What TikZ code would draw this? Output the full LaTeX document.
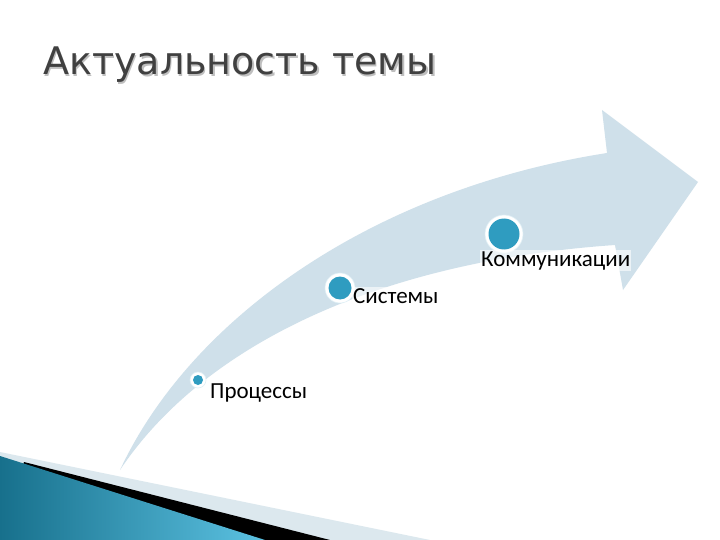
\documentclass[tikz,border=0pt]{standalone}
\usepackage{fontspec}
\setmainfont{Carlito}
\newfontfamily\titlefont{DejaVu Sans}
\definecolor{bandc}{HTML}{CFE0EA}
\definecolor{dotc}{HTML}{2F9CC0}
\definecolor{titlec}{HTML}{404040}
\definecolor{tealdark}{HTML}{17708C}
\definecolor{teallight}{HTML}{5CC2E2}
\definecolor{stripc}{HTML}{DCE8EE}
\tikzset{
  halo/.style={circle, fill=white, draw=white!85!dotc, line width=0.6pt, inner sep=0pt},
  dot/.style={circle, fill=dotc, inner sep=0pt},
  lbl/.style={anchor=base west, inner xsep=1pt, inner ysep=1pt, fill=white, fill opacity=0.6, text opacity=1, font=\fontsize{23}{26}\selectfont, text=black},
}
\begin{document}
\begin{tikzpicture}[x=1pt,y=-1pt]
\useasboundingbox (0,0) rectangle (720,540);
\fill[white] (0,0) rectangle (720,540);
% title
\node[anchor=base west, inner sep=0, text=black!25, font=\titlefont\fontsize{38}{44}\selectfont] (titleshadow) at (44.5,76.5) {Актуальность темы};
\node[anchor=base west, inner sep=0, text=titlec, font=\titlefont\fontsize{38}{44}\selectfont] (title) at (43,75) {Актуальность темы};
% curved arrow
\fill[bandc] (120,470) .. controls (190,320) and (370,190) .. (607,153)
  -- (602,110) -- (698,182) -- (623,290) -- (615,245)
  .. controls (370,262) and (200,350) .. (120,470) -- cycle;
% bottom-left decoration
\fill[stripc] (0,452) -- (430,540) -- (0,540) -- cycle;
\fill[black] (24,462) -- (330,540) -- (0,540) -- cycle;
\shade[left color=tealdark, right color=teallight] (0,456) -- (265,540) -- (0,540) -- cycle;
% dots
\node[halo, minimum size=16pt] (h1) at (198,380) {};
\node[dot, minimum size=10pt] (d1) at (198,380) {};
\node[halo, minimum size=30pt] (h2) at (340,288) {};
\node[dot, minimum size=23pt] (d2) at (340,288) {};
\node[halo, minimum size=38pt] (h3) at (504,234) {};
\node[dot, minimum size=31pt] (d3) at (504,234) {};
% labels
\node[lbl] (l1) at (209,398) {Процессы};
\node[lbl] (l2) at (352,303) {Системы};
\node[lbl] (l3) at (480,266) {Коммуникации};
\end{tikzpicture}
\end{document}
